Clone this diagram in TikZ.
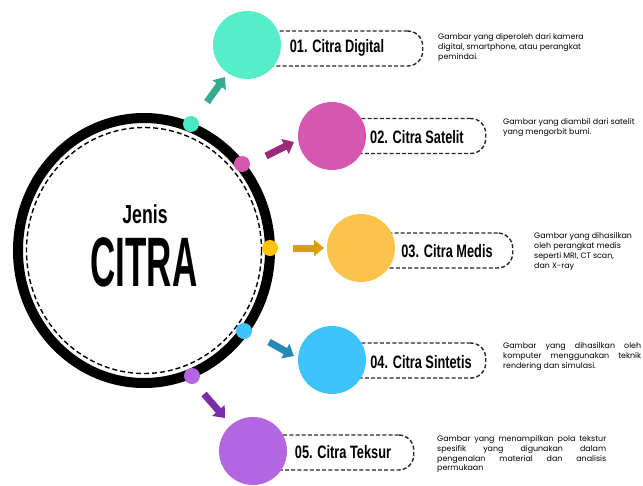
\documentclass[tikz,border=0pt]{standalone}
\usepackage{fontspec}
\setmainfont{Liberation Sans}
\newfontfamily\headfont{Liberation Sans}
\newfontfamily\descfont{Poppins}
\usetikzlibrary{arrows.meta,shapes.geometric}
\definecolor{tealC}{HTML}{55EEC8}
\definecolor{tealA}{HTML}{36AB8D}
\definecolor{tealD}{HTML}{4DE6C2}
\definecolor{pinkC}{HTML}{D557B0}
\definecolor{pinkA}{HTML}{9C2A7A}
\definecolor{yelC}{HTML}{FBC34B}
\definecolor{yelA}{HTML}{D8A100}
\definecolor{yelD}{HTML}{FFC30A}
\definecolor{bluC}{HTML}{3DC5FB}
\definecolor{bluA}{HTML}{2688B4}
\definecolor{purC}{HTML}{B366E0}
\definecolor{purA}{HTML}{7A2DA6}
\newcommand{\cond}[2]{\scalebox{#1}[1]{#2}}
\newcommand{\jline}[2]{\makebox[#1][s]{#2}}
\tikzset{
  bigdot/.style={circle, fill=#1, minimum size=68pt, inner sep=0pt},
  smalldot/.style={circle, fill=#1, minimum size=16pt, inner sep=0pt},
  dbox/.style={draw=black!85, dashed, dash pattern=on 4pt off 2.2pt, line width=1.4pt, rounded corners=15pt, minimum height=35pt, inner sep=0pt},
  ttl/.style={font=\headfont\bfseries\fontsize{18}{20}\selectfont, inner sep=0pt},
  desc/.style={font=\descfont\fontsize{7.9}{10}\selectfont, inner sep=0pt, anchor=north west, text=black, align=left},
  barrow/.style={draw=#1, line width=7pt, -{Triangle[width=16pt,length=10pt]}, shorten >=0pt}
}
\begin{document}
\begin{tikzpicture}[x=1pt,y=-1pt]
\useasboundingbox (0,0) rectangle (643,485);
% main ring
\node[draw=black, line width=10pt, ellipse, minimum width=252pt, minimum height=265pt, inner sep=0pt] (ring) at (144,250.5) {};
\draw[black, line width=1.4pt, dash pattern=on 5pt off 3pt] (144,250.5) ellipse [x radius=117.5, y radius=123];
\node[font=\headfont\bfseries\fontsize{26}{28}\selectfont, inner sep=0pt] (jenis) at (145,214) {\cond{0.68}{Jenis}};
\node[font=\headfont\bfseries\fontsize{70}{72}\selectfont, inner sep=0pt] (citra) at (144,262) {\cond{0.5}{CITRA}};
% dots on ring
\node[smalldot=tealD] (d1) at (191,124) {};
\node[smalldot=pinkC] (d2) at (242,164) {};
\node[smalldot=yelD] (d3) at (270,248) {};
\node[smalldot=bluC] (d4) at (244,331) {};
\node[smalldot=purC] (d5) at (192,376) {};
% boxes
\node[dbox, minimum width=175pt, anchor=west] (b1) at (247,48.5) {};
\node[dbox, minimum width=153pt, anchor=west] (b2) at (332,136) {};
\node[dbox, minimum width=151pt, anchor=west] (b3) at (361,250.5) {};
\node[dbox, minimum width=153pt, anchor=west] (b4) at (332,360.5) {};
\node[dbox, minimum width=160pt, anchor=west] (b5) at (253,452.5) {};
% big circles
\node[bigdot=tealC] (c1) at (247,45) {};
\node[bigdot=pinkC] (c2) at (332,136) {};
\node[bigdot=yelC] (c3) at (361,248) {};
\node[bigdot=bluC] (c4) at (332,360) {};
\node[bigdot=purC] (c5) at (253,451) {};
% titles
\node[ttl] (t1) at (337,48) {\cond{0.71}{01. Citra Digital}};
\node[ttl] (t2) at (417,137) {\cond{0.71}{02. Citra Satelit}};
\node[ttl] (t3) at (447,251) {\cond{0.71}{03. Citra Medis}};
\node[ttl] (t4) at (421,362) {\cond{0.71}{04. Citra Sintetis}};
\node[ttl] (t5) at (343,452) {\cond{0.71}{05. Citra Teksur}};
% descriptions
\node[desc] (e1) at (438,33.5) {Gambar yang diperoleh dari kamera\\digital, smartphone, atau perangkat\\pemindai.};
\node[desc] (e2) at (503,118.5) {Gambar yang diambil dari satelit\\yang mengorbit bumi.};
\node[desc] (e3) at (534,232.5) {Gambar yang dihasilkan\\oleh perangkat medis\\seperti MRI, CT scan,\\dan X-ray};
\node[desc] (e4) at (503,342.5) {\jline{138pt}{Gambar yang dihasilkan oleh}\\\jline{138pt}{komputer menggunakan teknik}\\rendering dan simulasi.};
\node[desc, font=\descfont\fontsize{7.9}{9.7}\selectfont] (e5) at (437,435.5) {\jline{169pt}{Gambar yang menampilkan pola tekstur}\\\jline{169pt}{spesifik yang digunakan dalam}\\\jline{169pt}{pengenalan material dan analisis}\\permukaan};
% arrows
\coordinate (a1s) at (207,102); \coordinate (a1e) at (225,77);
\coordinate (a2s) at (266,156); \coordinate (a2e) at (294,142);
\coordinate (a3s) at (293,248); \coordinate (a3e) at (324,248);
\coordinate (a4s) at (269,342); \coordinate (a4e) at (294,356);
\coordinate (a5s) at (204,394); \coordinate (a5e) at (225,418);
\draw[barrow=tealA] (a1s) -- (a1e);
\draw[barrow=pinkA] (a2s) -- (a2e);
\draw[barrow=yelA] (a3s) -- (a3e);
\draw[barrow=bluA] (a4s) -- (a4e);
\draw[barrow=purA] (a5s) -- (a5e);
\end{tikzpicture}
\end{document}
